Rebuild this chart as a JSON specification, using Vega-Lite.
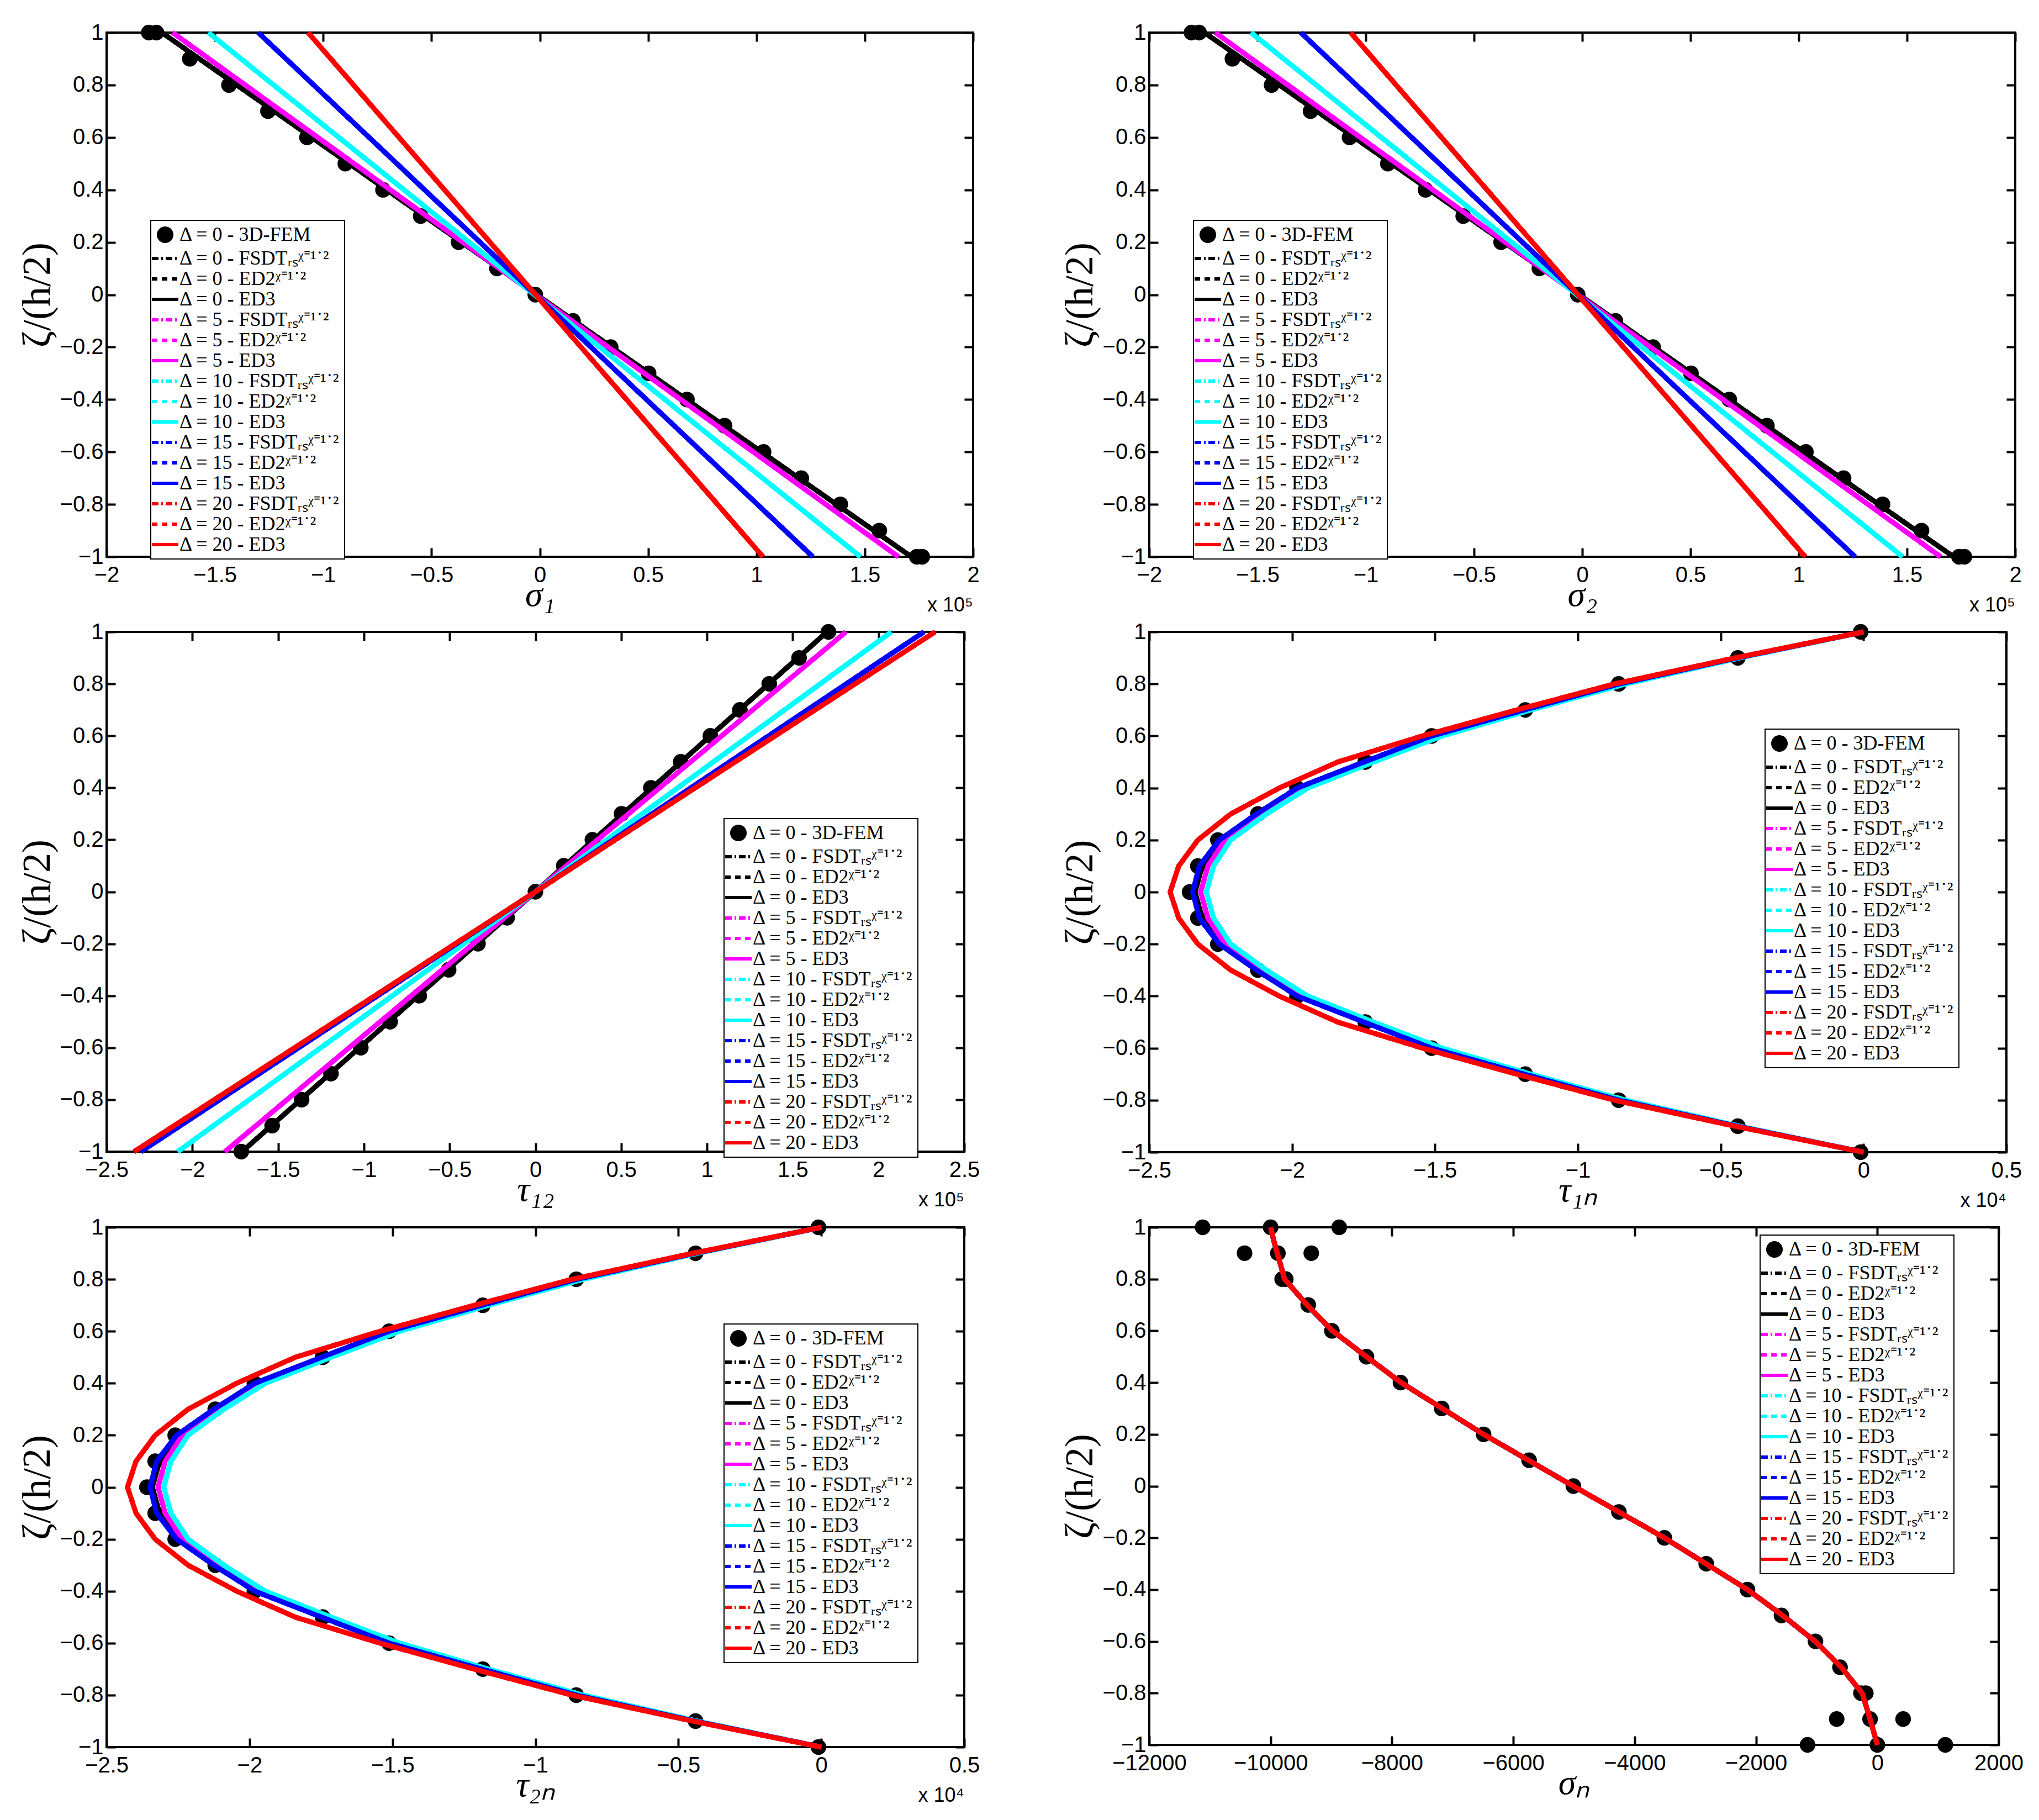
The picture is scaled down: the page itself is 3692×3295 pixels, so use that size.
{
"$schema":"https://vega.github.io/schema/vega-lite/v6.json",
"background":"white",
"padding":{"left":29,"top":37,"right":5,"bottom":5},
"params":[{"name":"L","value":["Δ = 0 - 3D-FEM","Δ = 0 - FSDTᵣₛᵡ⁼¹˙²","Δ = 0 - ED2ᵡ⁼¹˙²","Δ = 0 - ED3","Δ = 5 - FSDTᵣₛᵡ⁼¹˙²","Δ = 5 - ED2ᵡ⁼¹˙²","Δ = 5 - ED3","Δ = 10 - FSDTᵣₛᵡ⁼¹˙²","Δ = 10 - ED2ᵡ⁼¹˙²","Δ = 10 - ED3","Δ = 15 - FSDTᵣₛᵡ⁼¹˙²","Δ = 15 - ED2ᵡ⁼¹˙²","Δ = 15 - ED3","Δ = 20 - FSDTᵣₛᵡ⁼¹˙²","Δ = 20 - ED2ᵡ⁼¹˙²","Δ = 20 - ED3"]}],
"config":{
"view":{"stroke":"black","strokeWidth":4},
"axis":{"grid":false,"domain":false,"tickSize":-16,"tickWidth":4,"tickColor":"black","labelFont":"Liberation Sans","labelFontSize":40,"labelColor":"black","labelFlush":false,"labelOverlap":false,"labelBound":false,"titleFont":"Liberation Serif","titleColor":"black","titleFontWeight":"normal"},
"axisX":{"labelPadding":29,"titleFontSize":64,"titleFontStyle":"italic","titlePadding":-16},
"axisY":{"labelPadding":22,"titleFontSize":72,"titlePadding":4},
"legend":{"labelFont":"Liberation Serif","labelFontSize":36,"labelColor":"black","symbolSize":576,"symbolStrokeWidth":6,"strokeColor":"black","fillColor":"white","strokeWidth":2,"padding":8,"rowPadding":1,"labelOffset":8,"labelLimit":0,"direction":"vertical","symbolOpacity":1},
"range":{"category":["#000000","#000000","#000000","#000000","#ff00ff","#ff00ff","#ff00ff","#00ffff","#00ffff","#00ffff","#0000ff","#0000ff","#0000ff","#ff0000","#ff0000","#ff0000"],
"symbol":["circle","M-2,0H2","M-2,0H2","M-2,0H2","M-2,0H2","M-2,0H2","M-2,0H2","M-2,0H2","M-2,0H2","M-2,0H2","M-2,0H2","M-2,0H2","M-2,0H2","M-2,0H2","M-2,0H2","M-2,0H2"]}
},
"datasets":{
"s12":[
{"k":0,"z":1,"v":-180500},{"k":0,"z":1,"v":-177000},{"k":0,"z":0.9,"v":-161600},{"k":0,"z":0.8,"v":-143500},{"k":0,"z":0.7,"v":-125500},{"k":0,"z":0.6,"v":-107500},{"k":0,"z":0.5,"v":-89800},{"k":0,"z":0.4,"v":-72400},{"k":0,"z":0.3,"v":-55000},{"k":0,"z":0.2,"v":-37500},{"k":0,"z":0.1,"v":-19800},{"k":0,"z":0,"v":-2100},{"k":0,"z":-0.1,"v":15300},{"k":0,"z":-0.2,"v":32700},{"k":0,"z":-0.3,"v":50200},{"k":0,"z":-0.4,"v":67900},{"k":0,"z":-0.5,"v":85300},{"k":0,"z":-0.6,"v":103300},{"k":0,"z":-0.7,"v":120700},{"k":0,"z":-0.8,"v":138700},{"k":0,"z":-0.9,"v":156700},{"k":0,"z":-1,"v":174000},{"k":0,"z":-1,"v":176500},
{"k":1,"z":1,"v":-174500},{"k":1,"z":0,"v":-1500},{"k":1,"z":-1,"v":171500},
{"k":2,"z":1,"v":-174500},{"k":2,"z":0,"v":-1500},{"k":2,"z":-1,"v":171500},
{"k":3,"z":1,"v":-174500},{"k":3,"z":0,"v":-1500},{"k":3,"z":-1,"v":171500},
{"k":4,"z":1,"v":-169500},{"k":4,"z":0,"v":-2000},{"k":4,"z":-1,"v":165500},
{"k":5,"z":1,"v":-169500},{"k":5,"z":0,"v":-2000},{"k":5,"z":-1,"v":165500},
{"k":6,"z":1,"v":-169500},{"k":6,"z":0,"v":-2000},{"k":6,"z":-1,"v":165500},
{"k":7,"z":1,"v":-153000},{"k":7,"z":0,"v":-2500},{"k":7,"z":-1,"v":148000},
{"k":8,"z":1,"v":-153000},{"k":8,"z":0,"v":-2500},{"k":8,"z":-1,"v":148000},
{"k":9,"z":1,"v":-153000},{"k":9,"z":0,"v":-2500},{"k":9,"z":-1,"v":148000},
{"k":10,"z":1,"v":-130000},{"k":10,"z":0,"v":-2000},{"k":10,"z":-1,"v":126000},
{"k":11,"z":1,"v":-130000},{"k":11,"z":0,"v":-2000},{"k":11,"z":-1,"v":126000},
{"k":12,"z":1,"v":-130000},{"k":12,"z":0,"v":-2000},{"k":12,"z":-1,"v":126000},
{"k":13,"z":1,"v":-107000},{"k":13,"z":0,"v":-2000},{"k":13,"z":-1,"v":103000},
{"k":14,"z":1,"v":-107000},{"k":14,"z":0,"v":-2000},{"k":14,"z":-1,"v":103000},
{"k":15,"z":1,"v":-107000},{"k":15,"z":0,"v":-2000},{"k":15,"z":-1,"v":103000}
],
"t12":[
{"k":0,"z":1,"v":170800},{"k":0,"z":0.9,"v":153700},{"k":0,"z":0.8,"v":136300},{"k":0,"z":0.7,"v":119200},{"k":0,"z":0.6,"v":102000},{"k":0,"z":0.5,"v":84700},{"k":0,"z":0.4,"v":67300},{"k":0,"z":0.3,"v":50200},{"k":0,"z":0.2,"v":33200},{"k":0,"z":0.1,"v":16500},{"k":0,"z":0,"v":0},{"k":0,"z":-0.1,"v":-16500},{"k":0,"z":-0.2,"v":-33500},{"k":0,"z":-0.3,"v":-50600},{"k":0,"z":-0.4,"v":-67700},{"k":0,"z":-0.5,"v":-84700},{"k":0,"z":-0.6,"v":-101800},{"k":0,"z":-0.7,"v":-119200},{"k":0,"z":-0.8,"v":-136300},{"k":0,"z":-0.9,"v":-153500},{"k":0,"z":-1,"v":-171500},
{"k":1,"z":1,"v":170000},{"k":1,"z":0,"v":0},{"k":1,"z":-1,"v":-171000},
{"k":2,"z":1,"v":170000},{"k":2,"z":0,"v":0},{"k":2,"z":-1,"v":-171000},
{"k":3,"z":1,"v":170000},{"k":3,"z":0,"v":0},{"k":3,"z":-1,"v":-171000},
{"k":4,"z":1,"v":181000},{"k":4,"z":0,"v":0},{"k":4,"z":-1,"v":-181000},
{"k":5,"z":1,"v":181000},{"k":5,"z":0,"v":0},{"k":5,"z":-1,"v":-181000},
{"k":6,"z":1,"v":181000},{"k":6,"z":0,"v":0},{"k":6,"z":-1,"v":-181000},
{"k":7,"z":1,"v":207500},{"k":7,"z":0,"v":0},{"k":7,"z":-1,"v":-208500},
{"k":8,"z":1,"v":207500},{"k":8,"z":0,"v":0},{"k":8,"z":-1,"v":-208500},
{"k":9,"z":1,"v":207500},{"k":9,"z":0,"v":0},{"k":9,"z":-1,"v":-208500},
{"k":10,"z":1,"v":226500},{"k":10,"z":0,"v":0},{"k":10,"z":-1,"v":-230000},
{"k":11,"z":1,"v":226500},{"k":11,"z":0,"v":0},{"k":11,"z":-1,"v":-230000},
{"k":12,"z":1,"v":226500},{"k":12,"z":0,"v":0},{"k":12,"z":-1,"v":-230000},
{"k":13,"z":1,"v":233000},{"k":13,"z":0,"v":0},{"k":13,"z":-1,"v":-234000},
{"k":14,"z":1,"v":233000},{"k":14,"z":0,"v":0},{"k":14,"z":-1,"v":-234000},
{"k":15,"z":1,"v":233000},{"k":15,"z":0,"v":0},{"k":15,"z":-1,"v":-234000}
],
"tn":[
{"k":0,"z":1,"v":-100},{"k":0,"z":0.9,"v":-4400},{"k":0,"z":0.8,"v":-8570},{"k":0,"z":0.7,"v":-11840},{"k":0,"z":0.6,"v":-15120},{"k":0,"z":0.5,"v":-17440},{"k":0,"z":0.4,"v":-19830},{"k":0,"z":0.3,"v":-21200},{"k":0,"z":0.2,"v":-22600},{"k":0,"z":0.1,"v":-23300},{"k":0,"z":0,"v":-23590},{"k":0,"z":-0.1,"v":-23300},{"k":0,"z":-0.2,"v":-22600},{"k":0,"z":-0.3,"v":-21200},{"k":0,"z":-0.4,"v":-19830},{"k":0,"z":-0.5,"v":-17440},{"k":0,"z":-0.6,"v":-15120},{"k":0,"z":-0.7,"v":-11840},{"k":0,"z":-0.8,"v":-8570},{"k":0,"z":-0.9,"v":-4400},{"k":0,"z":-1,"v":-100},
{"k":1,"z":1,"v":0},{"k":1,"z":0.9,"v":-4420},{"k":1,"z":0.8,"v":-8550},{"k":1,"z":0.7,"v":-11850},{"k":1,"z":0.6,"v":-15100},{"k":1,"z":0.5,"v":-17450},{"k":1,"z":0.4,"v":-19800},{"k":1,"z":0.3,"v":-21200},{"k":1,"z":0.2,"v":-22500},{"k":1,"z":0.1,"v":-23150},{"k":1,"z":0,"v":-23400},{"k":1,"z":-0.1,"v":-23150},{"k":1,"z":-0.2,"v":-22500},{"k":1,"z":-0.3,"v":-21200},{"k":1,"z":-0.4,"v":-19800},{"k":1,"z":-0.5,"v":-17450},{"k":1,"z":-0.6,"v":-15100},{"k":1,"z":-0.7,"v":-11850},{"k":1,"z":-0.8,"v":-8550},{"k":1,"z":-0.9,"v":-4420},{"k":1,"z":-1,"v":0},
{"k":2,"z":1,"v":0},{"k":2,"z":0.9,"v":-4420},{"k":2,"z":0.8,"v":-8550},{"k":2,"z":0.7,"v":-11850},{"k":2,"z":0.6,"v":-15100},{"k":2,"z":0.5,"v":-17450},{"k":2,"z":0.4,"v":-19800},{"k":2,"z":0.3,"v":-21200},{"k":2,"z":0.2,"v":-22500},{"k":2,"z":0.1,"v":-23150},{"k":2,"z":0,"v":-23400},{"k":2,"z":-0.1,"v":-23150},{"k":2,"z":-0.2,"v":-22500},{"k":2,"z":-0.3,"v":-21200},{"k":2,"z":-0.4,"v":-19800},{"k":2,"z":-0.5,"v":-17450},{"k":2,"z":-0.6,"v":-15100},{"k":2,"z":-0.7,"v":-11850},{"k":2,"z":-0.8,"v":-8550},{"k":2,"z":-0.9,"v":-4420},{"k":2,"z":-1,"v":0},
{"k":3,"z":1,"v":0},{"k":3,"z":0.9,"v":-4420},{"k":3,"z":0.8,"v":-8550},{"k":3,"z":0.7,"v":-11850},{"k":3,"z":0.6,"v":-15100},{"k":3,"z":0.5,"v":-17450},{"k":3,"z":0.4,"v":-19800},{"k":3,"z":0.3,"v":-21200},{"k":3,"z":0.2,"v":-22500},{"k":3,"z":0.1,"v":-23150},{"k":3,"z":0,"v":-23400},{"k":3,"z":-0.1,"v":-23150},{"k":3,"z":-0.2,"v":-22500},{"k":3,"z":-0.3,"v":-21200},{"k":3,"z":-0.4,"v":-19800},{"k":3,"z":-0.5,"v":-17450},{"k":3,"z":-0.6,"v":-15100},{"k":3,"z":-0.7,"v":-11850},{"k":3,"z":-0.8,"v":-8550},{"k":3,"z":-0.9,"v":-4420},{"k":3,"z":-1,"v":0},
{"k":4,"z":1,"v":0},{"k":4,"z":0.9,"v":-4400},{"k":4,"z":0.8,"v":-8500},{"k":4,"z":0.7,"v":-11800},{"k":4,"z":0.6,"v":-15000},{"k":4,"z":0.5,"v":-17350},{"k":4,"z":0.4,"v":-19700},{"k":4,"z":0.3,"v":-21100},{"k":4,"z":0.2,"v":-22350},{"k":4,"z":0.1,"v":-22950},{"k":4,"z":0,"v":-23200},{"k":4,"z":-0.1,"v":-22950},{"k":4,"z":-0.2,"v":-22350},{"k":4,"z":-0.3,"v":-21100},{"k":4,"z":-0.4,"v":-19700},{"k":4,"z":-0.5,"v":-17350},{"k":4,"z":-0.6,"v":-15000},{"k":4,"z":-0.7,"v":-11800},{"k":4,"z":-0.8,"v":-8500},{"k":4,"z":-0.9,"v":-4400},{"k":4,"z":-1,"v":0},
{"k":5,"z":1,"v":0},{"k":5,"z":0.9,"v":-4400},{"k":5,"z":0.8,"v":-8500},{"k":5,"z":0.7,"v":-11800},{"k":5,"z":0.6,"v":-15000},{"k":5,"z":0.5,"v":-17350},{"k":5,"z":0.4,"v":-19700},{"k":5,"z":0.3,"v":-21100},{"k":5,"z":0.2,"v":-22350},{"k":5,"z":0.1,"v":-22950},{"k":5,"z":0,"v":-23200},{"k":5,"z":-0.1,"v":-22950},{"k":5,"z":-0.2,"v":-22350},{"k":5,"z":-0.3,"v":-21100},{"k":5,"z":-0.4,"v":-19700},{"k":5,"z":-0.5,"v":-17350},{"k":5,"z":-0.6,"v":-15000},{"k":5,"z":-0.7,"v":-11800},{"k":5,"z":-0.8,"v":-8500},{"k":5,"z":-0.9,"v":-4400},{"k":5,"z":-1,"v":0},
{"k":6,"z":1,"v":0},{"k":6,"z":0.9,"v":-4400},{"k":6,"z":0.8,"v":-8500},{"k":6,"z":0.7,"v":-11800},{"k":6,"z":0.6,"v":-15000},{"k":6,"z":0.5,"v":-17350},{"k":6,"z":0.4,"v":-19700},{"k":6,"z":0.3,"v":-21100},{"k":6,"z":0.2,"v":-22350},{"k":6,"z":0.1,"v":-22950},{"k":6,"z":0,"v":-23200},{"k":6,"z":-0.1,"v":-22950},{"k":6,"z":-0.2,"v":-22350},{"k":6,"z":-0.3,"v":-21100},{"k":6,"z":-0.4,"v":-19700},{"k":6,"z":-0.5,"v":-17350},{"k":6,"z":-0.6,"v":-15000},{"k":6,"z":-0.7,"v":-11800},{"k":6,"z":-0.8,"v":-8500},{"k":6,"z":-0.9,"v":-4400},{"k":6,"z":-1,"v":0},
{"k":7,"z":1,"v":0},{"k":7,"z":0.9,"v":-4350},{"k":7,"z":0.8,"v":-8330},{"k":7,"z":0.7,"v":-11650},{"k":7,"z":0.6,"v":-14750},{"k":7,"z":0.5,"v":-17150},{"k":7,"z":0.4,"v":-19450},{"k":7,"z":0.3,"v":-20900},{"k":7,"z":0.2,"v":-22150},{"k":7,"z":0.1,"v":-22750},{"k":7,"z":0,"v":-23000},{"k":7,"z":-0.1,"v":-22750},{"k":7,"z":-0.2,"v":-22150},{"k":7,"z":-0.3,"v":-20900},{"k":7,"z":-0.4,"v":-19450},{"k":7,"z":-0.5,"v":-17150},{"k":7,"z":-0.6,"v":-14750},{"k":7,"z":-0.7,"v":-11650},{"k":7,"z":-0.8,"v":-8330},{"k":7,"z":-0.9,"v":-4350},{"k":7,"z":-1,"v":0},
{"k":8,"z":1,"v":0},{"k":8,"z":0.9,"v":-4350},{"k":8,"z":0.8,"v":-8330},{"k":8,"z":0.7,"v":-11650},{"k":8,"z":0.6,"v":-14750},{"k":8,"z":0.5,"v":-17150},{"k":8,"z":0.4,"v":-19450},{"k":8,"z":0.3,"v":-20900},{"k":8,"z":0.2,"v":-22150},{"k":8,"z":0.1,"v":-22750},{"k":8,"z":0,"v":-23000},{"k":8,"z":-0.1,"v":-22750},{"k":8,"z":-0.2,"v":-22150},{"k":8,"z":-0.3,"v":-20900},{"k":8,"z":-0.4,"v":-19450},{"k":8,"z":-0.5,"v":-17150},{"k":8,"z":-0.6,"v":-14750},{"k":8,"z":-0.7,"v":-11650},{"k":8,"z":-0.8,"v":-8330},{"k":8,"z":-0.9,"v":-4350},{"k":8,"z":-1,"v":0},
{"k":9,"z":1,"v":0},{"k":9,"z":0.9,"v":-4350},{"k":9,"z":0.8,"v":-8330},{"k":9,"z":0.7,"v":-11650},{"k":9,"z":0.6,"v":-14750},{"k":9,"z":0.5,"v":-17150},{"k":9,"z":0.4,"v":-19450},{"k":9,"z":0.3,"v":-20900},{"k":9,"z":0.2,"v":-22150},{"k":9,"z":0.1,"v":-22750},{"k":9,"z":0,"v":-23000},{"k":9,"z":-0.1,"v":-22750},{"k":9,"z":-0.2,"v":-22150},{"k":9,"z":-0.3,"v":-20900},{"k":9,"z":-0.4,"v":-19450},{"k":9,"z":-0.5,"v":-17150},{"k":9,"z":-0.6,"v":-14750},{"k":9,"z":-0.7,"v":-11650},{"k":9,"z":-0.8,"v":-8330},{"k":9,"z":-0.9,"v":-4350},{"k":9,"z":-1,"v":0},
{"k":10,"z":1,"v":0},{"k":10,"z":0.9,"v":-4430},{"k":10,"z":0.8,"v":-8560},{"k":10,"z":0.7,"v":-11880},{"k":10,"z":0.6,"v":-15120},{"k":10,"z":0.5,"v":-17480},{"k":10,"z":0.4,"v":-19820},{"k":10,"z":0.3,"v":-21250},{"k":10,"z":0.2,"v":-22550},{"k":10,"z":0.1,"v":-23250},{"k":10,"z":0,"v":-23480},{"k":10,"z":-0.1,"v":-23250},{"k":10,"z":-0.2,"v":-22550},{"k":10,"z":-0.3,"v":-21250},{"k":10,"z":-0.4,"v":-19820},{"k":10,"z":-0.5,"v":-17480},{"k":10,"z":-0.6,"v":-15120},{"k":10,"z":-0.7,"v":-11880},{"k":10,"z":-0.8,"v":-8560},{"k":10,"z":-0.9,"v":-4430},{"k":10,"z":-1,"v":0},
{"k":11,"z":1,"v":0},{"k":11,"z":0.9,"v":-4430},{"k":11,"z":0.8,"v":-8560},{"k":11,"z":0.7,"v":-11880},{"k":11,"z":0.6,"v":-15120},{"k":11,"z":0.5,"v":-17480},{"k":11,"z":0.4,"v":-19820},{"k":11,"z":0.3,"v":-21250},{"k":11,"z":0.2,"v":-22550},{"k":11,"z":0.1,"v":-23250},{"k":11,"z":0,"v":-23480},{"k":11,"z":-0.1,"v":-23250},{"k":11,"z":-0.2,"v":-22550},{"k":11,"z":-0.3,"v":-21250},{"k":11,"z":-0.4,"v":-19820},{"k":11,"z":-0.5,"v":-17480},{"k":11,"z":-0.6,"v":-15120},{"k":11,"z":-0.7,"v":-11880},{"k":11,"z":-0.8,"v":-8560},{"k":11,"z":-0.9,"v":-4430},{"k":11,"z":-1,"v":0},
{"k":12,"z":1,"v":0},{"k":12,"z":0.9,"v":-4430},{"k":12,"z":0.8,"v":-8560},{"k":12,"z":0.7,"v":-11880},{"k":12,"z":0.6,"v":-15120},{"k":12,"z":0.5,"v":-17480},{"k":12,"z":0.4,"v":-19820},{"k":12,"z":0.3,"v":-21250},{"k":12,"z":0.2,"v":-22550},{"k":12,"z":0.1,"v":-23250},{"k":12,"z":0,"v":-23480},{"k":12,"z":-0.1,"v":-23250},{"k":12,"z":-0.2,"v":-22550},{"k":12,"z":-0.3,"v":-21250},{"k":12,"z":-0.4,"v":-19820},{"k":12,"z":-0.5,"v":-17480},{"k":12,"z":-0.6,"v":-15120},{"k":12,"z":-0.7,"v":-11880},{"k":12,"z":-0.8,"v":-8560},{"k":12,"z":-0.9,"v":-4430},{"k":12,"z":-1,"v":0},
{"k":13,"z":1,"v":0},{"k":13,"z":0.9,"v":-4500},{"k":13,"z":0.8,"v":-8720},{"k":13,"z":0.7,"v":-12140},{"k":13,"z":0.6,"v":-15440},{"k":13,"z":0.5,"v":-18400},{"k":13,"z":0.4,"v":-20450},{"k":13,"z":0.3,"v":-22150},{"k":13,"z":0.2,"v":-23300},{"k":13,"z":0.1,"v":-23970},{"k":13,"z":0,"v":-24270},{"k":13,"z":-0.1,"v":-23970},{"k":13,"z":-0.2,"v":-23300},{"k":13,"z":-0.3,"v":-22150},{"k":13,"z":-0.4,"v":-20450},{"k":13,"z":-0.5,"v":-18400},{"k":13,"z":-0.6,"v":-15440},{"k":13,"z":-0.7,"v":-12140},{"k":13,"z":-0.8,"v":-8720},{"k":13,"z":-0.9,"v":-4500},{"k":13,"z":-1,"v":0},
{"k":14,"z":1,"v":0},{"k":14,"z":0.9,"v":-4500},{"k":14,"z":0.8,"v":-8720},{"k":14,"z":0.7,"v":-12140},{"k":14,"z":0.6,"v":-15440},{"k":14,"z":0.5,"v":-18400},{"k":14,"z":0.4,"v":-20450},{"k":14,"z":0.3,"v":-22150},{"k":14,"z":0.2,"v":-23300},{"k":14,"z":0.1,"v":-23970},{"k":14,"z":0,"v":-24270},{"k":14,"z":-0.1,"v":-23970},{"k":14,"z":-0.2,"v":-23300},{"k":14,"z":-0.3,"v":-22150},{"k":14,"z":-0.4,"v":-20450},{"k":14,"z":-0.5,"v":-18400},{"k":14,"z":-0.6,"v":-15440},{"k":14,"z":-0.7,"v":-12140},{"k":14,"z":-0.8,"v":-8720},{"k":14,"z":-0.9,"v":-4500},{"k":14,"z":-1,"v":0},
{"k":15,"z":1,"v":0},{"k":15,"z":0.9,"v":-4500},{"k":15,"z":0.8,"v":-8720},{"k":15,"z":0.7,"v":-12140},{"k":15,"z":0.6,"v":-15440},{"k":15,"z":0.5,"v":-18400},{"k":15,"z":0.4,"v":-20450},{"k":15,"z":0.3,"v":-22150},{"k":15,"z":0.2,"v":-23300},{"k":15,"z":0.1,"v":-23970},{"k":15,"z":0,"v":-24270},{"k":15,"z":-0.1,"v":-23970},{"k":15,"z":-0.2,"v":-23300},{"k":15,"z":-0.3,"v":-22150},{"k":15,"z":-0.4,"v":-20450},{"k":15,"z":-0.5,"v":-18400},{"k":15,"z":-0.6,"v":-15440},{"k":15,"z":-0.7,"v":-12140},{"k":15,"z":-0.8,"v":-8720},{"k":15,"z":-0.9,"v":-4500},{"k":15,"z":-1,"v":0}
],
"sn":[
{"k":0,"z":1,"v":-11120},{"k":0,"z":1,"v":-10000},{"k":0,"z":1,"v":-8870},{"k":0,"z":0.9,"v":-10430},{"k":0,"z":0.9,"v":-9880},{"k":0,"z":0.9,"v":-9330},{"k":0,"z":0.8,"v":-9810},{"k":0,"z":0.8,"v":-9750},{"k":0,"z":0.7,"v":-9380},{"k":0,"z":0.6,"v":-8990},{"k":0,"z":0.5,"v":-8420},{"k":0,"z":0.4,"v":-7860},{"k":0,"z":0.3,"v":-7180},{"k":0,"z":0.2,"v":-6490},{"k":0,"z":0.1,"v":-5740},{"k":0,"z":0,"v":-5010},{"k":0,"z":-0.1,"v":-4260},{"k":0,"z":-0.2,"v":-3510},{"k":0,"z":-0.3,"v":-2820},{"k":0,"z":-0.4,"v":-2140},{"k":0,"z":-0.5,"v":-1580},{"k":0,"z":-0.6,"v":-1020},{"k":0,"z":-0.7,"v":-615},{"k":0,"z":-0.8,"v":-270},{"k":0,"z":-0.8,"v":-190},{"k":0,"z":-0.9,"v":-670},{"k":0,"z":-0.9,"v":-120},{"k":0,"z":-0.9,"v":425},{"k":0,"z":-1,"v":-1150},{"k":0,"z":-1,"v":0},{"k":0,"z":-1,"v":1120},
{"k":1,"z":1,"v":-10000},{"k":1,"z":0.95,"v":-9950},{"k":1,"z":0.9,"v":-9890},{"k":1,"z":0.8,"v":-9770},{"k":1,"z":0.7,"v":-9400},{"k":1,"z":0.6,"v":-8980},{"k":1,"z":0.5,"v":-8420},{"k":1,"z":0.4,"v":-7850},{"k":1,"z":0.2,"v":-6490},{"k":1,"z":0,"v":-5010},{"k":1,"z":-0.2,"v":-3510},{"k":1,"z":-0.4,"v":-2140},{"k":1,"z":-0.5,"v":-1560},{"k":1,"z":-0.6,"v":-1025},{"k":1,"z":-0.7,"v":-595},{"k":1,"z":-0.8,"v":-250},{"k":1,"z":-0.9,"v":-120},{"k":1,"z":-1,"v":0},
{"k":2,"z":1,"v":-10000},{"k":2,"z":0.95,"v":-9950},{"k":2,"z":0.9,"v":-9890},{"k":2,"z":0.8,"v":-9770},{"k":2,"z":0.7,"v":-9400},{"k":2,"z":0.6,"v":-8980},{"k":2,"z":0.5,"v":-8420},{"k":2,"z":0.4,"v":-7850},{"k":2,"z":0.2,"v":-6490},{"k":2,"z":0,"v":-5010},{"k":2,"z":-0.2,"v":-3510},{"k":2,"z":-0.4,"v":-2140},{"k":2,"z":-0.5,"v":-1560},{"k":2,"z":-0.6,"v":-1025},{"k":2,"z":-0.7,"v":-595},{"k":2,"z":-0.8,"v":-250},{"k":2,"z":-0.9,"v":-120},{"k":2,"z":-1,"v":0},
{"k":3,"z":1,"v":-10000},{"k":3,"z":0.95,"v":-9950},{"k":3,"z":0.9,"v":-9890},{"k":3,"z":0.8,"v":-9770},{"k":3,"z":0.7,"v":-9400},{"k":3,"z":0.6,"v":-8980},{"k":3,"z":0.5,"v":-8420},{"k":3,"z":0.4,"v":-7850},{"k":3,"z":0.2,"v":-6490},{"k":3,"z":0,"v":-5010},{"k":3,"z":-0.2,"v":-3510},{"k":3,"z":-0.4,"v":-2140},{"k":3,"z":-0.5,"v":-1560},{"k":3,"z":-0.6,"v":-1025},{"k":3,"z":-0.7,"v":-595},{"k":3,"z":-0.8,"v":-250},{"k":3,"z":-0.9,"v":-120},{"k":3,"z":-1,"v":0},
{"k":4,"z":1,"v":-10000},{"k":4,"z":0.95,"v":-9950},{"k":4,"z":0.9,"v":-9890},{"k":4,"z":0.8,"v":-9770},{"k":4,"z":0.7,"v":-9400},{"k":4,"z":0.6,"v":-8980},{"k":4,"z":0.5,"v":-8420},{"k":4,"z":0.4,"v":-7850},{"k":4,"z":0.2,"v":-6490},{"k":4,"z":0,"v":-5010},{"k":4,"z":-0.2,"v":-3510},{"k":4,"z":-0.4,"v":-2140},{"k":4,"z":-0.5,"v":-1560},{"k":4,"z":-0.6,"v":-1025},{"k":4,"z":-0.7,"v":-595},{"k":4,"z":-0.8,"v":-250},{"k":4,"z":-0.9,"v":-120},{"k":4,"z":-1,"v":0},
{"k":5,"z":1,"v":-10000},{"k":5,"z":0.95,"v":-9950},{"k":5,"z":0.9,"v":-9890},{"k":5,"z":0.8,"v":-9770},{"k":5,"z":0.7,"v":-9400},{"k":5,"z":0.6,"v":-8980},{"k":5,"z":0.5,"v":-8420},{"k":5,"z":0.4,"v":-7850},{"k":5,"z":0.2,"v":-6490},{"k":5,"z":0,"v":-5010},{"k":5,"z":-0.2,"v":-3510},{"k":5,"z":-0.4,"v":-2140},{"k":5,"z":-0.5,"v":-1560},{"k":5,"z":-0.6,"v":-1025},{"k":5,"z":-0.7,"v":-595},{"k":5,"z":-0.8,"v":-250},{"k":5,"z":-0.9,"v":-120},{"k":5,"z":-1,"v":0},
{"k":6,"z":1,"v":-10000},{"k":6,"z":0.95,"v":-9950},{"k":6,"z":0.9,"v":-9890},{"k":6,"z":0.8,"v":-9770},{"k":6,"z":0.7,"v":-9400},{"k":6,"z":0.6,"v":-8980},{"k":6,"z":0.5,"v":-8420},{"k":6,"z":0.4,"v":-7850},{"k":6,"z":0.2,"v":-6490},{"k":6,"z":0,"v":-5010},{"k":6,"z":-0.2,"v":-3510},{"k":6,"z":-0.4,"v":-2140},{"k":6,"z":-0.5,"v":-1560},{"k":6,"z":-0.6,"v":-1025},{"k":6,"z":-0.7,"v":-595},{"k":6,"z":-0.8,"v":-250},{"k":6,"z":-0.9,"v":-120},{"k":6,"z":-1,"v":0},
{"k":7,"z":1,"v":-10000},{"k":7,"z":0.95,"v":-9950},{"k":7,"z":0.9,"v":-9890},{"k":7,"z":0.8,"v":-9770},{"k":7,"z":0.7,"v":-9400},{"k":7,"z":0.6,"v":-8980},{"k":7,"z":0.5,"v":-8420},{"k":7,"z":0.4,"v":-7850},{"k":7,"z":0.2,"v":-6490},{"k":7,"z":0,"v":-5010},{"k":7,"z":-0.2,"v":-3510},{"k":7,"z":-0.4,"v":-2140},{"k":7,"z":-0.5,"v":-1560},{"k":7,"z":-0.6,"v":-1025},{"k":7,"z":-0.7,"v":-595},{"k":7,"z":-0.8,"v":-250},{"k":7,"z":-0.9,"v":-120},{"k":7,"z":-1,"v":0},
{"k":8,"z":1,"v":-10000},{"k":8,"z":0.95,"v":-9950},{"k":8,"z":0.9,"v":-9890},{"k":8,"z":0.8,"v":-9770},{"k":8,"z":0.7,"v":-9400},{"k":8,"z":0.6,"v":-8980},{"k":8,"z":0.5,"v":-8420},{"k":8,"z":0.4,"v":-7850},{"k":8,"z":0.2,"v":-6490},{"k":8,"z":0,"v":-5010},{"k":8,"z":-0.2,"v":-3510},{"k":8,"z":-0.4,"v":-2140},{"k":8,"z":-0.5,"v":-1560},{"k":8,"z":-0.6,"v":-1025},{"k":8,"z":-0.7,"v":-595},{"k":8,"z":-0.8,"v":-250},{"k":8,"z":-0.9,"v":-120},{"k":8,"z":-1,"v":0},
{"k":9,"z":1,"v":-10000},{"k":9,"z":0.95,"v":-9950},{"k":9,"z":0.9,"v":-9890},{"k":9,"z":0.8,"v":-9770},{"k":9,"z":0.7,"v":-9400},{"k":9,"z":0.6,"v":-8980},{"k":9,"z":0.5,"v":-8420},{"k":9,"z":0.4,"v":-7850},{"k":9,"z":0.2,"v":-6490},{"k":9,"z":0,"v":-5010},{"k":9,"z":-0.2,"v":-3510},{"k":9,"z":-0.4,"v":-2140},{"k":9,"z":-0.5,"v":-1560},{"k":9,"z":-0.6,"v":-1025},{"k":9,"z":-0.7,"v":-595},{"k":9,"z":-0.8,"v":-250},{"k":9,"z":-0.9,"v":-120},{"k":9,"z":-1,"v":0},
{"k":10,"z":1,"v":-10000},{"k":10,"z":0.95,"v":-9950},{"k":10,"z":0.9,"v":-9890},{"k":10,"z":0.8,"v":-9770},{"k":10,"z":0.7,"v":-9400},{"k":10,"z":0.6,"v":-8980},{"k":10,"z":0.5,"v":-8420},{"k":10,"z":0.4,"v":-7850},{"k":10,"z":0.2,"v":-6490},{"k":10,"z":0,"v":-5010},{"k":10,"z":-0.2,"v":-3510},{"k":10,"z":-0.4,"v":-2140},{"k":10,"z":-0.5,"v":-1560},{"k":10,"z":-0.6,"v":-1025},{"k":10,"z":-0.7,"v":-595},{"k":10,"z":-0.8,"v":-250},{"k":10,"z":-0.9,"v":-120},{"k":10,"z":-1,"v":0},
{"k":11,"z":1,"v":-10000},{"k":11,"z":0.95,"v":-9950},{"k":11,"z":0.9,"v":-9890},{"k":11,"z":0.8,"v":-9770},{"k":11,"z":0.7,"v":-9400},{"k":11,"z":0.6,"v":-8980},{"k":11,"z":0.5,"v":-8420},{"k":11,"z":0.4,"v":-7850},{"k":11,"z":0.2,"v":-6490},{"k":11,"z":0,"v":-5010},{"k":11,"z":-0.2,"v":-3510},{"k":11,"z":-0.4,"v":-2140},{"k":11,"z":-0.5,"v":-1560},{"k":11,"z":-0.6,"v":-1025},{"k":11,"z":-0.7,"v":-595},{"k":11,"z":-0.8,"v":-250},{"k":11,"z":-0.9,"v":-120},{"k":11,"z":-1,"v":0},
{"k":12,"z":1,"v":-10000},{"k":12,"z":0.95,"v":-9950},{"k":12,"z":0.9,"v":-9890},{"k":12,"z":0.8,"v":-9770},{"k":12,"z":0.7,"v":-9400},{"k":12,"z":0.6,"v":-8980},{"k":12,"z":0.5,"v":-8420},{"k":12,"z":0.4,"v":-7850},{"k":12,"z":0.2,"v":-6490},{"k":12,"z":0,"v":-5010},{"k":12,"z":-0.2,"v":-3510},{"k":12,"z":-0.4,"v":-2140},{"k":12,"z":-0.5,"v":-1560},{"k":12,"z":-0.6,"v":-1025},{"k":12,"z":-0.7,"v":-595},{"k":12,"z":-0.8,"v":-250},{"k":12,"z":-0.9,"v":-120},{"k":12,"z":-1,"v":0},
{"k":13,"z":1,"v":-10000},{"k":13,"z":0.95,"v":-9950},{"k":13,"z":0.9,"v":-9890},{"k":13,"z":0.8,"v":-9770},{"k":13,"z":0.7,"v":-9400},{"k":13,"z":0.6,"v":-8980},{"k":13,"z":0.5,"v":-8420},{"k":13,"z":0.4,"v":-7850},{"k":13,"z":0.2,"v":-6490},{"k":13,"z":0,"v":-5010},{"k":13,"z":-0.2,"v":-3510},{"k":13,"z":-0.4,"v":-2140},{"k":13,"z":-0.5,"v":-1560},{"k":13,"z":-0.6,"v":-1025},{"k":13,"z":-0.7,"v":-595},{"k":13,"z":-0.8,"v":-250},{"k":13,"z":-0.9,"v":-120},{"k":13,"z":-1,"v":0},
{"k":14,"z":1,"v":-10000},{"k":14,"z":0.95,"v":-9950},{"k":14,"z":0.9,"v":-9890},{"k":14,"z":0.8,"v":-9770},{"k":14,"z":0.7,"v":-9400},{"k":14,"z":0.6,"v":-8980},{"k":14,"z":0.5,"v":-8420},{"k":14,"z":0.4,"v":-7850},{"k":14,"z":0.2,"v":-6490},{"k":14,"z":0,"v":-5010},{"k":14,"z":-0.2,"v":-3510},{"k":14,"z":-0.4,"v":-2140},{"k":14,"z":-0.5,"v":-1560},{"k":14,"z":-0.6,"v":-1025},{"k":14,"z":-0.7,"v":-595},{"k":14,"z":-0.8,"v":-250},{"k":14,"z":-0.9,"v":-120},{"k":14,"z":-1,"v":0},
{"k":15,"z":1,"v":-10000},{"k":15,"z":0.95,"v":-9950},{"k":15,"z":0.9,"v":-9890},{"k":15,"z":0.8,"v":-9770},{"k":15,"z":0.7,"v":-9400},{"k":15,"z":0.6,"v":-8980},{"k":15,"z":0.5,"v":-8420},{"k":15,"z":0.4,"v":-7850},{"k":15,"z":0.2,"v":-6490},{"k":15,"z":0,"v":-5010},{"k":15,"z":-0.2,"v":-3510},{"k":15,"z":-0.4,"v":-2140},{"k":15,"z":-0.5,"v":-1560},{"k":15,"z":-0.6,"v":-1025},{"k":15,"z":-0.7,"v":-595},{"k":15,"z":-0.8,"v":-250},{"k":15,"z":-0.9,"v":-120},{"k":15,"z":-1,"v":0}
]
},
"columns":2,
"spacing":{"row":136,"column":319},
"bounds":"flush",
"resolve":{"scale":{"x":"independent","y":"independent","color":"independent","shape":"independent","strokeDash":"independent"},"legend":{"color":"independent","shape":"independent","strokeDash":"independent"}},
"concat":[
{"width":1569,"height":949,"data":{"name":"s12"},
"layer":[
{"transform":[{"filter":"datum.k==0"}],"mark":{"type":"point","filled":true,"size":800,"opacity":1},
"encoding":{"x":{"field":"v","type":"quantitative","scale":{"domain":[-200000,200000],"nice":false,"zero":false},"axis":{"orient":"top","labels":false,"title":null,"values":[-200000,-150000,-100000,-50000,0,50000,100000,150000,200000]}},
"y":{"field":"z","type":"quantitative","scale":{"domain":[-1,1],"nice":false,"zero":false},"axis":{"orient":"right","labels":false,"title":null,"values":[-1,-0.8,-0.6,-0.4,-0.2,0,0.2,0.4,0.6,0.8,1]}},
"color":{"field":"k","type":"nominal","scale":{"domain":[0,1,2,3,4,5,6,7,8,9,10,11,12,13,14,15]},"legend":{"orient":"none","legendX":80,"legendY":340,"title":null,"labelExpr":"L[datum.value]"}},
"shape":{"field":"k","type":"nominal","scale":{"domain":[0,1,2,3,4,5,6,7,8,9,10,11,12,13,14,15]},"legend":{"orient":"none","legendX":80,"legendY":340,"title":null,"labelExpr":"L[datum.value]"}}}},
{"transform":[{"filter":"datum.k>0"}],"mark":{"type":"line","strokeWidth":9},
"encoding":{"x":{"field":"v","type":"quantitative","axis":{"orient":"bottom","values":[-200000,-150000,-100000,-50000,0,50000,100000,150000,200000],"labelExpr":"format(datum.value/100000,'~g')","title":"σ₁"}},
"y":{"field":"z","type":"quantitative","axis":{"orient":"left","values":[-1,-0.8,-0.6,-0.4,-0.2,0,0.2,0.4,0.6,0.8,1],"format":"~g","title":"ζ/(h/2)"}},
"color":{"field":"k","type":"nominal","scale":{"domain":[0,1,2,3,4,5,6,7,8,9,10,11,12,13,14,15]},"legend":{"orient":"none","legendX":80,"legendY":340,"title":null,"labelExpr":"L[datum.value]"}},
"strokeDash":{"field":"k","type":"nominal","scale":{"domain":[0,1,2,3,4,5,6,7,8,9,10,11,12,13,14,15],"range":[[1,0],[12,5,3,5],[10,8],[1,0],[12,5,3,5],[10,8],[1,0],[12,5,3,5],[10,8],[1,0],[12,5,3,5],[10,8],[1,0],[12,5,3,5],[10,8],[1,0]]},"legend":{"orient":"none","legendX":80,"legendY":340,"title":null,"labelExpr":"L[datum.value]"}},
"order":{"field":"z","type":"quantitative"}}},
{"data":{"values":[{"t":"x 10⁵"}]},"mark":{"type":"text","align":"right","baseline":"middle","dy":88,"fontSize":36,"font":"Liberation Sans"},
"encoding":{"x":{"datum":200000,"type":"quantitative","axis":null},"y":{"datum":-1,"type":"quantitative","axis":null},"text":{"field":"t"}}}
],
"resolve":{"axis":{"x":"independent","y":"independent"}}},

{"width":1568,"height":949,"data":{"name":"s12"},
"layer":[
{"transform":[{"filter":"datum.k==0"}],"mark":{"type":"point","filled":true,"size":800,"opacity":1},
"encoding":{"x":{"field":"v","type":"quantitative","scale":{"domain":[-200000,200000],"nice":false,"zero":false},"axis":{"orient":"top","labels":false,"title":null,"values":[-200000,-150000,-100000,-50000,0,50000,100000,150000,200000]}},
"y":{"field":"z","type":"quantitative","scale":{"domain":[-1,1],"nice":false,"zero":false},"axis":{"orient":"right","labels":false,"title":null,"values":[-1,-0.8,-0.6,-0.4,-0.2,0,0.2,0.4,0.6,0.8,1]}},
"color":{"field":"k","type":"nominal","scale":{"domain":[0,1,2,3,4,5,6,7,8,9,10,11,12,13,14,15]},"legend":{"orient":"none","legendX":80,"legendY":340,"title":null,"labelExpr":"L[datum.value]"}},
"shape":{"field":"k","type":"nominal","scale":{"domain":[0,1,2,3,4,5,6,7,8,9,10,11,12,13,14,15]},"legend":{"orient":"none","legendX":80,"legendY":340,"title":null,"labelExpr":"L[datum.value]"}}}},
{"transform":[{"filter":"datum.k>0"}],"mark":{"type":"line","strokeWidth":9},
"encoding":{"x":{"field":"v","type":"quantitative","axis":{"orient":"bottom","values":[-200000,-150000,-100000,-50000,0,50000,100000,150000,200000],"labelExpr":"format(datum.value/100000,'~g')","title":"σ₂"}},
"y":{"field":"z","type":"quantitative","axis":{"orient":"left","values":[-1,-0.8,-0.6,-0.4,-0.2,0,0.2,0.4,0.6,0.8,1],"format":"~g","title":"ζ/(h/2)"}},
"color":{"field":"k","type":"nominal","scale":{"domain":[0,1,2,3,4,5,6,7,8,9,10,11,12,13,14,15]},"legend":{"orient":"none","legendX":80,"legendY":340,"title":null,"labelExpr":"L[datum.value]"}},
"strokeDash":{"field":"k","type":"nominal","scale":{"domain":[0,1,2,3,4,5,6,7,8,9,10,11,12,13,14,15],"range":[[1,0],[12,5,3,5],[10,8],[1,0],[12,5,3,5],[10,8],[1,0],[12,5,3,5],[10,8],[1,0],[12,5,3,5],[10,8],[1,0],[12,5,3,5],[10,8],[1,0]]},"legend":{"orient":"none","legendX":80,"legendY":340,"title":null,"labelExpr":"L[datum.value]"}},
"order":{"field":"z","type":"quantitative"}}},
{"data":{"values":[{"t":"x 10⁵"}]},"mark":{"type":"text","align":"right","baseline":"middle","dy":88,"fontSize":36,"font":"Liberation Sans"},
"encoding":{"x":{"datum":200000,"type":"quantitative","axis":null},"y":{"datum":-1,"type":"quantitative","axis":null},"text":{"field":"t"}}}
],
"resolve":{"axis":{"x":"independent","y":"independent"}}},

{"width":1553,"height":941,"data":{"name":"t12"},
"layer":[
{"transform":[{"filter":"datum.k==0"}],"mark":{"type":"point","filled":true,"size":800,"opacity":1},
"encoding":{"x":{"field":"v","type":"quantitative","scale":{"domain":[-250000,250000],"nice":false,"zero":false},"axis":{"orient":"top","labels":false,"title":null,"values":[-250000,-200000,-150000,-100000,-50000,0,50000,100000,150000,200000,250000]}},
"y":{"field":"z","type":"quantitative","scale":{"domain":[-1,1],"nice":false,"zero":false},"axis":{"orient":"right","labels":false,"title":null,"values":[-1,-0.8,-0.6,-0.4,-0.2,0,0.2,0.4,0.6,0.8,1]}},
"color":{"field":"k","type":"nominal","scale":{"domain":[0,1,2,3,4,5,6,7,8,9,10,11,12,13,14,15]},"legend":{"orient":"none","legendX":1118,"legendY":338,"title":null,"labelExpr":"L[datum.value]"}},
"shape":{"field":"k","type":"nominal","scale":{"domain":[0,1,2,3,4,5,6,7,8,9,10,11,12,13,14,15]},"legend":{"orient":"none","legendX":1118,"legendY":338,"title":null,"labelExpr":"L[datum.value]"}}}},
{"transform":[{"filter":"datum.k>0"}],"mark":{"type":"line","strokeWidth":9},
"encoding":{"x":{"field":"v","type":"quantitative","axis":{"orient":"bottom","values":[-250000,-200000,-150000,-100000,-50000,0,50000,100000,150000,200000,250000],"labelExpr":"format(datum.value/100000,'~g')","title":"τ₁₂"}},
"y":{"field":"z","type":"quantitative","axis":{"orient":"left","values":[-1,-0.8,-0.6,-0.4,-0.2,0,0.2,0.4,0.6,0.8,1],"format":"~g","title":"ζ/(h/2)"}},
"color":{"field":"k","type":"nominal","scale":{"domain":[0,1,2,3,4,5,6,7,8,9,10,11,12,13,14,15]},"legend":{"orient":"none","legendX":1118,"legendY":338,"title":null,"labelExpr":"L[datum.value]"}},
"strokeDash":{"field":"k","type":"nominal","scale":{"domain":[0,1,2,3,4,5,6,7,8,9,10,11,12,13,14,15],"range":[[1,0],[12,5,3,5],[10,8],[1,0],[12,5,3,5],[10,8],[1,0],[12,5,3,5],[10,8],[1,0],[12,5,3,5],[10,8],[1,0],[12,5,3,5],[10,8],[1,0]]},"legend":{"orient":"none","legendX":1118,"legendY":338,"title":null,"labelExpr":"L[datum.value]"}},
"order":{"field":"z","type":"quantitative"}}},
{"data":{"values":[{"t":"x 10⁵"}]},"mark":{"type":"text","align":"right","baseline":"middle","dy":88,"fontSize":36,"font":"Liberation Sans"},
"encoding":{"x":{"datum":250000,"type":"quantitative","axis":null},"y":{"datum":-1,"type":"quantitative","axis":null},"text":{"field":"t"}}}
],
"resolve":{"axis":{"x":"independent","y":"independent"}}},

{"width":1552,"height":942,"data":{"name":"tn"},
"layer":[
{"transform":[{"filter":"datum.k==0"}],"mark":{"type":"point","filled":true,"size":800,"opacity":1},
"encoding":{"x":{"field":"v","type":"quantitative","scale":{"domain":[-25000,5000],"nice":false,"zero":false},"axis":{"orient":"top","labels":false,"title":null,"values":[-25000,-20000,-15000,-10000,-5000,0,5000]}},
"y":{"field":"z","type":"quantitative","scale":{"domain":[-1,1],"nice":false,"zero":false},"axis":{"orient":"right","labels":false,"title":null,"values":[-1,-0.8,-0.6,-0.4,-0.2,0,0.2,0.4,0.6,0.8,1]}},
"color":{"field":"k","type":"nominal","scale":{"domain":[0,1,2,3,4,5,6,7,8,9,10,11,12,13,14,15]},"legend":{"orient":"none","legendX":1115,"legendY":176,"title":null,"labelExpr":"L[datum.value]"}},
"shape":{"field":"k","type":"nominal","scale":{"domain":[0,1,2,3,4,5,6,7,8,9,10,11,12,13,14,15]},"legend":{"orient":"none","legendX":1115,"legendY":176,"title":null,"labelExpr":"L[datum.value]"}}}},
{"transform":[{"filter":"datum.k>0"}],"mark":{"type":"line","strokeWidth":9},
"encoding":{"x":{"field":"v","type":"quantitative","axis":{"orient":"bottom","values":[-25000,-20000,-15000,-10000,-5000,0,5000],"labelExpr":"format(datum.value/10000,'~g')","title":"τ₁ₙ"}},
"y":{"field":"z","type":"quantitative","axis":{"orient":"left","values":[-1,-0.8,-0.6,-0.4,-0.2,0,0.2,0.4,0.6,0.8,1],"format":"~g","title":"ζ/(h/2)"}},
"color":{"field":"k","type":"nominal","scale":{"domain":[0,1,2,3,4,5,6,7,8,9,10,11,12,13,14,15]},"legend":{"orient":"none","legendX":1115,"legendY":176,"title":null,"labelExpr":"L[datum.value]"}},
"strokeDash":{"field":"k","type":"nominal","scale":{"domain":[0,1,2,3,4,5,6,7,8,9,10,11,12,13,14,15],"range":[[1,0],[12,5,3,5],[10,8],[1,0],[12,5,3,5],[10,8],[1,0],[12,5,3,5],[10,8],[1,0],[12,5,3,5],[10,8],[1,0],[12,5,3,5],[10,8],[1,0]]},"legend":{"orient":"none","legendX":1115,"legendY":176,"title":null,"labelExpr":"L[datum.value]"}},
"order":{"field":"z","type":"quantitative"}}},
{"data":{"values":[{"t":"x 10⁴"}]},"mark":{"type":"text","align":"right","baseline":"middle","dy":88,"fontSize":36,"font":"Liberation Sans"},
"encoding":{"x":{"datum":5000,"type":"quantitative","axis":null},"y":{"datum":-1,"type":"quantitative","axis":null},"text":{"field":"t"}}}
],
"resolve":{"axis":{"x":"independent","y":"independent"}}},

{"width":1553,"height":941,"data":{"name":"tn"},
"layer":[
{"transform":[{"filter":"datum.k==0"}],"mark":{"type":"point","filled":true,"size":800,"opacity":1},
"encoding":{"x":{"field":"v","type":"quantitative","scale":{"domain":[-25000,5000],"nice":false,"zero":false},"axis":{"orient":"top","labels":false,"title":null,"values":[-25000,-20000,-15000,-10000,-5000,0,5000]}},
"y":{"field":"z","type":"quantitative","scale":{"domain":[-1,1],"nice":false,"zero":false},"axis":{"orient":"right","labels":false,"title":null,"values":[-1,-0.8,-0.6,-0.4,-0.2,0,0.2,0.4,0.6,0.8,1]}},
"color":{"field":"k","type":"nominal","scale":{"domain":[0,1,2,3,4,5,6,7,8,9,10,11,12,13,14,15]},"legend":{"orient":"none","legendX":1118,"legendY":175,"title":null,"labelExpr":"L[datum.value]"}},
"shape":{"field":"k","type":"nominal","scale":{"domain":[0,1,2,3,4,5,6,7,8,9,10,11,12,13,14,15]},"legend":{"orient":"none","legendX":1118,"legendY":175,"title":null,"labelExpr":"L[datum.value]"}}}},
{"transform":[{"filter":"datum.k>0"}],"mark":{"type":"line","strokeWidth":9},
"encoding":{"x":{"field":"v","type":"quantitative","axis":{"orient":"bottom","values":[-25000,-20000,-15000,-10000,-5000,0,5000],"labelExpr":"format(datum.value/10000,'~g')","title":"τ₂ₙ"}},
"y":{"field":"z","type":"quantitative","axis":{"orient":"left","values":[-1,-0.8,-0.6,-0.4,-0.2,0,0.2,0.4,0.6,0.8,1],"format":"~g","title":"ζ/(h/2)"}},
"color":{"field":"k","type":"nominal","scale":{"domain":[0,1,2,3,4,5,6,7,8,9,10,11,12,13,14,15]},"legend":{"orient":"none","legendX":1118,"legendY":175,"title":null,"labelExpr":"L[datum.value]"}},
"strokeDash":{"field":"k","type":"nominal","scale":{"domain":[0,1,2,3,4,5,6,7,8,9,10,11,12,13,14,15],"range":[[1,0],[12,5,3,5],[10,8],[1,0],[12,5,3,5],[10,8],[1,0],[12,5,3,5],[10,8],[1,0],[12,5,3,5],[10,8],[1,0],[12,5,3,5],[10,8],[1,0]]},"legend":{"orient":"none","legendX":1118,"legendY":175,"title":null,"labelExpr":"L[datum.value]"}},
"order":{"field":"z","type":"quantitative"}}},
{"data":{"values":[{"t":"x 10⁴"}]},"mark":{"type":"text","align":"right","baseline":"middle","dy":88,"fontSize":36,"font":"Liberation Sans"},
"encoding":{"x":{"datum":5000,"type":"quantitative","axis":null},"y":{"datum":-1,"type":"quantitative","axis":null},"text":{"field":"t"}}}
],
"resolve":{"axis":{"x":"independent","y":"independent"}}},

{"width":1538,"height":937,"data":{"name":"sn"},
"layer":[
{"transform":[{"filter":"datum.k==0"}],"mark":{"type":"point","filled":true,"size":800,"opacity":1},
"encoding":{"x":{"field":"v","type":"quantitative","scale":{"domain":[-12000,2000],"nice":false,"zero":false},"axis":{"orient":"top","labels":false,"title":null,"values":[-12000,-10000,-8000,-6000,-4000,-2000,0,2000]}},
"y":{"field":"z","type":"quantitative","scale":{"domain":[-1,1],"nice":false,"zero":false},"axis":{"orient":"right","labels":false,"title":null,"values":[-1,-0.8,-0.6,-0.4,-0.2,0,0.2,0.4,0.6,0.8,1]}},
"color":{"field":"k","type":"nominal","scale":{"domain":[0,1,2,3,4,5,6,7,8,9,10,11,12,13,14,15]},"legend":{"orient":"none","legendX":1106,"legendY":14,"title":null,"labelExpr":"L[datum.value]"}},
"shape":{"field":"k","type":"nominal","scale":{"domain":[0,1,2,3,4,5,6,7,8,9,10,11,12,13,14,15]},"legend":{"orient":"none","legendX":1106,"legendY":14,"title":null,"labelExpr":"L[datum.value]"}}}},
{"transform":[{"filter":"datum.k>0"}],"mark":{"type":"line","strokeWidth":9},
"encoding":{"x":{"field":"v","type":"quantitative","axis":{"orient":"bottom","values":[-12000,-10000,-8000,-6000,-4000,-2000,0,2000],"format":"d","title":"σₙ"}},
"y":{"field":"z","type":"quantitative","axis":{"orient":"left","values":[-1,-0.8,-0.6,-0.4,-0.2,0,0.2,0.4,0.6,0.8,1],"format":"~g","title":"ζ/(h/2)"}},
"color":{"field":"k","type":"nominal","scale":{"domain":[0,1,2,3,4,5,6,7,8,9,10,11,12,13,14,15]},"legend":{"orient":"none","legendX":1106,"legendY":14,"title":null,"labelExpr":"L[datum.value]"}},
"strokeDash":{"field":"k","type":"nominal","scale":{"domain":[0,1,2,3,4,5,6,7,8,9,10,11,12,13,14,15],"range":[[1,0],[12,5,3,5],[10,8],[1,0],[12,5,3,5],[10,8],[1,0],[12,5,3,5],[10,8],[1,0],[12,5,3,5],[10,8],[1,0],[12,5,3,5],[10,8],[1,0]]},"legend":{"orient":"none","legendX":1106,"legendY":14,"title":null,"labelExpr":"L[datum.value]"}},
"order":{"field":"z","type":"quantitative"}}}
],
"resolve":{"axis":{"x":"independent","y":"independent"}}}
]
}
